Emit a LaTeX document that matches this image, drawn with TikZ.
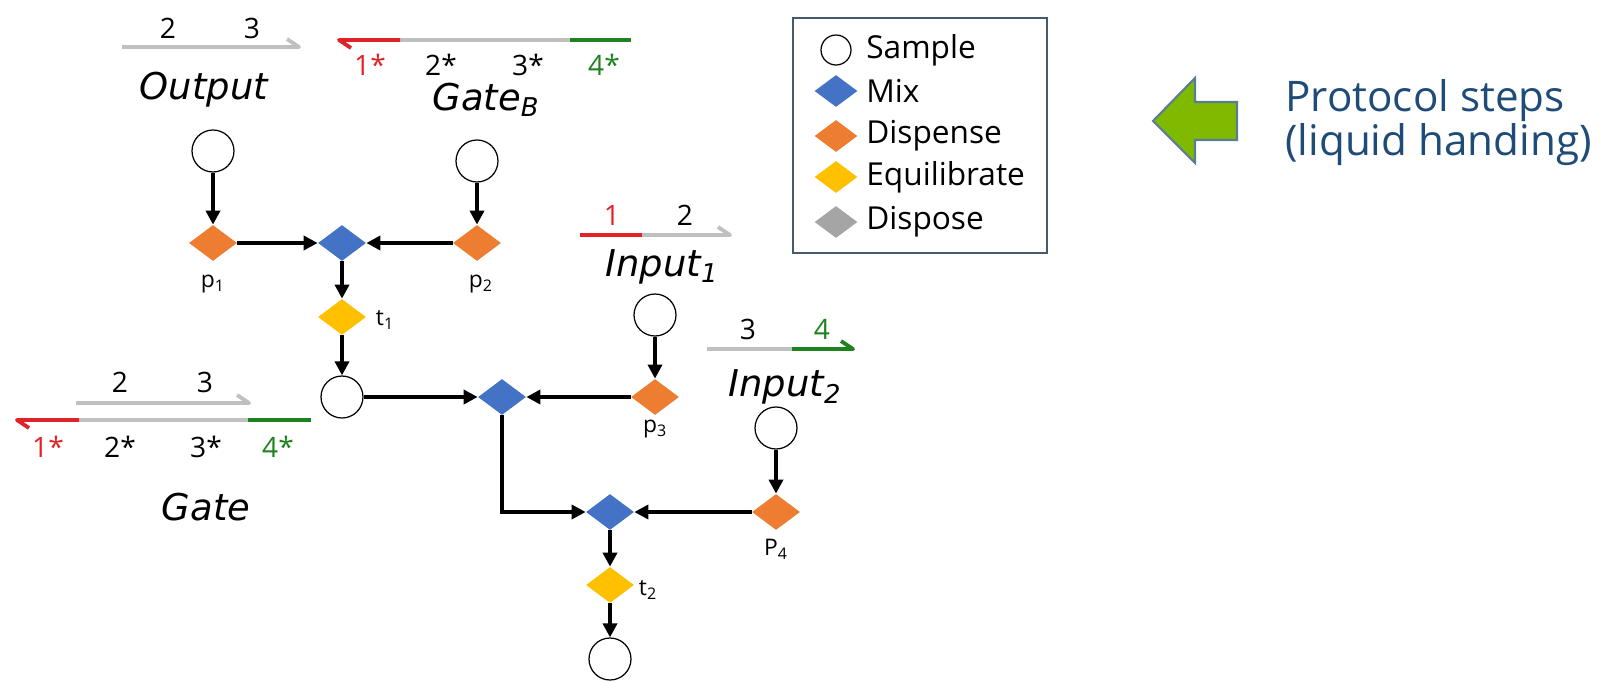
\documentclass[tikz,border=0pt]{standalone}
\usepackage{fontspec}
\setmainfont{Open Sans}
\newfontfamily\namefont{DejaVu Sans}
\usetikzlibrary{arrows.meta, positioning, shapes.geometric}
\definecolor{MixBlue}{RGB}{68,114,196}
\definecolor{DispOrange}{RGB}{237,125,49}
\definecolor{EquiYellow}{RGB}{255,192,0}
\definecolor{DispGray}{RGB}{165,165,165}
\definecolor{StrandGray}{RGB}{192,192,192}
\definecolor{StrandRed}{RGB}{225,35,40}
\definecolor{StrandGreen}{RGB}{30,130,30}
\definecolor{ArrowGreen}{RGB}{127,186,0}
\definecolor{ArrowEdge}{RGB}{90,125,150}
\definecolor{NoteBlue}{RGB}{30,75,120}
\definecolor{BoxEdge}{RGB}{70,90,110}

\begin{document}
\begin{tikzpicture}[
        x=0.02cm, y=-0.02cm,
        sample/.style={circle, draw, line width=0.7pt, minimum size=0.84cm, inner sep=0pt},
        op/.style={diamond, inner sep=0pt, minimum width=0.96cm, minimum height=0.72cm},
        mix/.style={op, fill=MixBlue},
        dispense/.style={op, fill=DispOrange},
        equil/.style={op, fill=EquiYellow},
        dispose/.style={op, fill=DispGray},
        keyop/.style={op, minimum width=0.86cm, minimum height=0.64cm},
        line/.style={draw, line width=2pt, -{Triangle[length=8pt, width=8pt]}},
        strand/.style={line width=2.2pt, line join=round},
        seglabel/.style={font=\fontsize{16}{18}\selectfont},
        tag/.style={font=\fontsize{13}{15}\selectfont},
        species/.style={font=\namefont\itshape\fontsize{21}{24}\selectfont},
        keyitem/.style={anchor=west, inner sep=0pt, font=\fontsize{18}{20}\selectfont}
    ]
        \useasboundingbox (0,0) rectangle (1604,682);

        % strands
        \draw [strand, StrandGray] (122,47) -- (299,47) -- ++(-12,-8);
        \node [seglabel] (o2) at (168,28) {2};
        \node [seglabel] (o3) at (252,28) {3};
        \node [species] (output) at (204,90) {Output};

        \draw [strand, StrandGray] (400,40) -- (570,40);
        \draw [strand, StrandRed] (400,40) -- (339,40) -- ++(12,8);
        \draw [strand, StrandGreen] (570,40) -- (631,40);
        \node [seglabel, StrandRed] (gb1) at (370,65) {1*};
        \node [seglabel] (gb2) at (441,65) {2*};
        \node [seglabel] (gb3) at (528,65) {3*};
        \node [seglabel, StrandGreen] (gb4) at (604,65) {4*};
        \node [species] (gateb) at (486,100) {Gate\textsubscript{B}};

        \draw [strand, StrandGray] (642,235) -- (730,235) -- ++(-12,-8);
        \draw [strand, StrandRed] (580,235) -- (642,235);
        \node [seglabel, StrandRed] (a1) at (612,215) {1};
        \node [seglabel] (a2) at (685,215) {2};
        \node [species] (input1) at (662,267) {Input\textsubscript{1}};

        \draw [strand, StrandGray] (707,349) -- (792,349);
        \draw [strand, StrandGreen] (792,349) -- (853,349) -- ++(-12,-8);
        \node [seglabel] (b3) at (748,329) {3};
        \node [seglabel, StrandGreen] (b4) at (822,329) {4};
        \node [species] (input2) at (785,387) {Input\textsubscript{2}};

        \draw [strand, StrandGray] (76,403) -- (249,403) -- ++(-12,-8);
        \node [seglabel] (g2) at (120,382) {2};
        \node [seglabel] (g3) at (205,382) {3};
        \draw [strand, StrandGray] (79,420) -- (248,420);
        \draw [strand, StrandRed] (79,420) -- (17,420) -- ++(12,8);
        \draw [strand, StrandGreen] (248,420) -- (311,420);
        \node [seglabel, StrandRed] (g1s) at (48,447) {1*};
        \node [seglabel] (g2s) at (120,447) {2*};
        \node [seglabel] (g3s) at (206,447) {3*};
        \node [seglabel, StrandGreen] (g4s) at (278,447) {4*};
        \node [species] (gate) at (206,507) {Gate};

        % protocol graph
        \node [sample] (outS) at (213,151) {};
        \node [sample] (gbS) at (477,161) {};
        \node [dispense] (p1) at (213,243) {};
        \node [mix] (mixA) at (342,243) {};
        \node [dispense] (p2) at (477,243) {};
        \node [equil] (t1) at (342,317) {};
        \node [sample] (midS) at (342,397) {};
        \node [mix] (mixB) at (502,397) {};
        \node [sample] (in1S) at (655,315) {};
        \node [dispense] (p3) at (655,397) {};
        \node [sample] (in2S) at (776,428) {};
        \node [dispense] (p4) at (776,512) {};
        \node [mix] (mixC) at (610,512) {};
        \node [equil] (t2) at (610,585) {};
        \node [sample] (endS) at (610,659) {};

        \node [tag] (lp1) at (213,284) {p\textsubscript{1}};
        \node [tag] (lp2) at (481,284) {p\textsubscript{2}};
        \node [tag] (lt1) at (385,320) {t\textsubscript{1}};
        \node [tag] (lp3) at (655,429) {p\textsubscript{3}};
        \node [tag] (lp4) at (776,549) {P\textsubscript{4}};
        \node [tag] (lt2) at (648,590) {t\textsubscript{2}};

        \path [line] (outS) -- (p1);
        \path [line] (gbS) -- (p2);
        \path [line] (p1) -- (mixA);
        \path [line] (p2) -- (mixA);
        \path [line] (mixA) -- (t1);
        \path [line] (t1) -- (midS);
        \path [line] (midS) -- (mixB);
        \path [line] (in1S) -- (p3);
        \path [line] (p3) -- (mixB);
        \path [line] (mixB.south) |- (mixC.west);
        \path [line] (in2S) -- (p4);
        \path [line] (p4) -- (mixC);
        \path [line] (mixC) -- (t2);
        \path [line] (t2) -- (endS);

        % legend
        \node [draw=BoxEdge, line width=0.8pt, minimum width=5.08cm, minimum height=4.7cm] (key) at (920,135.5) {};
        \node [circle, draw, line width=0.7pt, minimum size=0.6cm, inner sep=0pt] (kS) at (836,50) {};
        \node [keyop, fill=MixBlue] (kM) at (836,91) {};
        \node [keyop, fill=DispOrange] (kD) at (836,136) {};
        \node [keyop, fill=EquiYellow] (kE) at (836,177) {};
        \node [keyop, fill=DispGray] (kG) at (836,222) {};
        \node [keyitem] (tS) at (866,50) {Sample};
        \node [keyitem] (tM) at (866,91) {Mix};
        \node [keyitem] (tD) at (866,136) {Dispense};
        \node [keyitem] (tE) at (866,177) {Equilibrate};
        \node [keyitem] (tG) at (866,222) {Dispose};

        % note
        \draw [fill=ArrowGreen, draw=ArrowEdge, line width=1.2pt, line join=miter]
            (1153,121) -- (1195,78) -- (1195,102) -- (1237,102) -- (1237,140)
            -- (1195,140) -- (1195,163) -- cycle;
        \node [anchor=base west, NoteBlue, font=\fontsize{24}{28}\selectfont, inner sep=0pt] (note1) at (1285,112) {Protocol steps};
        \node [anchor=base west, NoteBlue, font=\fontsize{24}{28}\selectfont, inner sep=0pt] (note2) at (1285,155) {(liquid handing)};
    \end{tikzpicture}
\end{document}
